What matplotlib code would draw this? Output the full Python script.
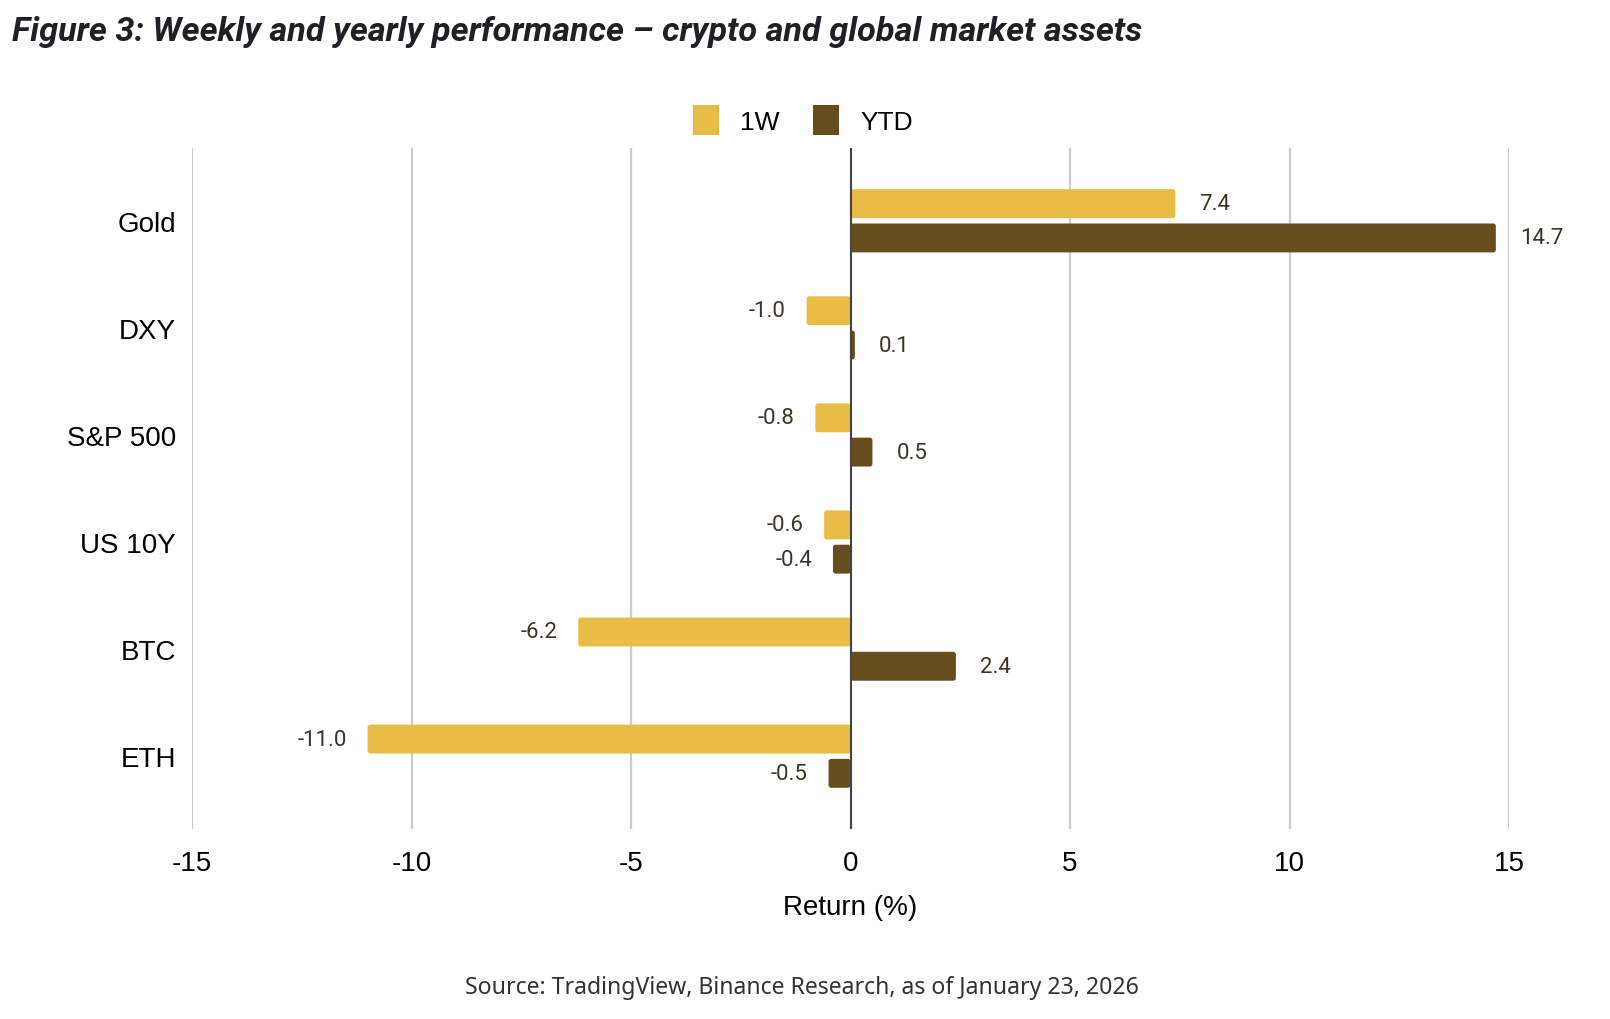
import matplotlib.pyplot as plt
from matplotlib.patches import FancyBboxPatch, Patch
import numpy as np

# data
assets = ['Gold', 'DXY', 'S&P 500', 'US 10Y', 'BTC', 'ETH']
week = [7.4, -1.0, -0.8, -0.6, -6.2, -11.0]
ytd = [14.7, 0.1, 0.5, -0.4, 2.4, -0.5]
xticks = [-15, -10, -5, 0, 5, 10, 15]

c_week = '#E8BC45'
c_ytd = '#674C1E'
lbl_col = '#3d3526'

fig = plt.figure(figsize=(16.1, 10.2), dpi=100)
ax = fig.add_axes([192 / 1610, 1 - 830 / 1020, (1509 - 192) / 1610, (830 - 149) / 1020])

y = np.arange(len(assets))
h = 0.27
off = 0.16


def rounded_bars(vals, ys, color):
    for v, yy in zip(vals, ys):
        x0 = min(0, v)
        w = abs(v)
        p = FancyBboxPatch((x0, yy - h / 2), w, h,
                           boxstyle='round,pad=0,rounding_size=0.06',
                           mutation_aspect=1 / 2.4,
                           facecolor=color, edgecolor='none', zorder=3)
        ax.add_patch(p)


rounded_bars(week, y - off, c_week)
rounded_bars(ytd, y + off, c_ytd)

for vals, ys in [(week, y - off), (ytd, y + off)]:
    for v, yy in zip(vals, ys):
        if v >= 0:
            ax.annotate(f'{v:.1f}', (v, yy), xytext=(24, 0), textcoords='offset pixels',
                        ha='left', va='center', fontsize=16, color=lbl_col, family='Roboto')
        else:
            ax.annotate(f'{v:.1f}', (v, yy), xytext=(-21, 0), textcoords='offset pixels',
                        ha='right', va='center', fontsize=16, color=lbl_col, family='Roboto')

ax.set_xlim(-15, 15)
ax.set_ylim(5.68, -0.68)
ax.set_xticks(xticks)
ax.set_xticklabels([str(t) for t in xticks], family='Liberation Sans', fontsize=20)
ax.set_yticks(y)
ax.set_yticklabels(assets, family='Liberation Sans', fontsize=20)
ax.tick_params(length=0, pad=11.5)
ax.tick_params(axis='x', pad=15)
for s in ax.spines.values():
    s.set_visible(False)
ax.grid(axis='x', color='#cccccc', linewidth=1.6, zorder=0)
ax.axvline(0, color='#444444', linewidth=1.5, zorder=4)
ax.set_xlabel('Return (%)', family='Liberation Sans', fontsize=20, labelpad=13)

handles = [Patch(facecolor=c_week, label='1W'), Patch(facecolor=c_ytd, label='YTD')]
fig.legend(handles=handles, loc='center', bbox_to_anchor=(803 / 1610, 1 - 121 / 1020),
           ncol=2, frameon=False, prop={'family': 'Liberation Sans', 'size': 19},
           handlelength=1.0, handleheight=1.35, columnspacing=1.25, handletextpad=0.8)

fig.text(12 / 1610, 1 - 32 / 1020, 'Figure 3: Weekly and yearly performance \u2013 crypto and global market assets',
         ha='left', va='center', fontsize=24.7, fontweight='bold', fontstyle='italic',
         family='Roboto', color='#1e2026')
fig.text(802 / 1610, 1 - 988 / 1020, 'Source: TradingView, Binance Research, as of January 23, 2026',
         ha='center', va='center', fontsize=16.6, family='Noto Sans', color='#333333')

fig.savefig('out.png', dpi=100, facecolor='white')
